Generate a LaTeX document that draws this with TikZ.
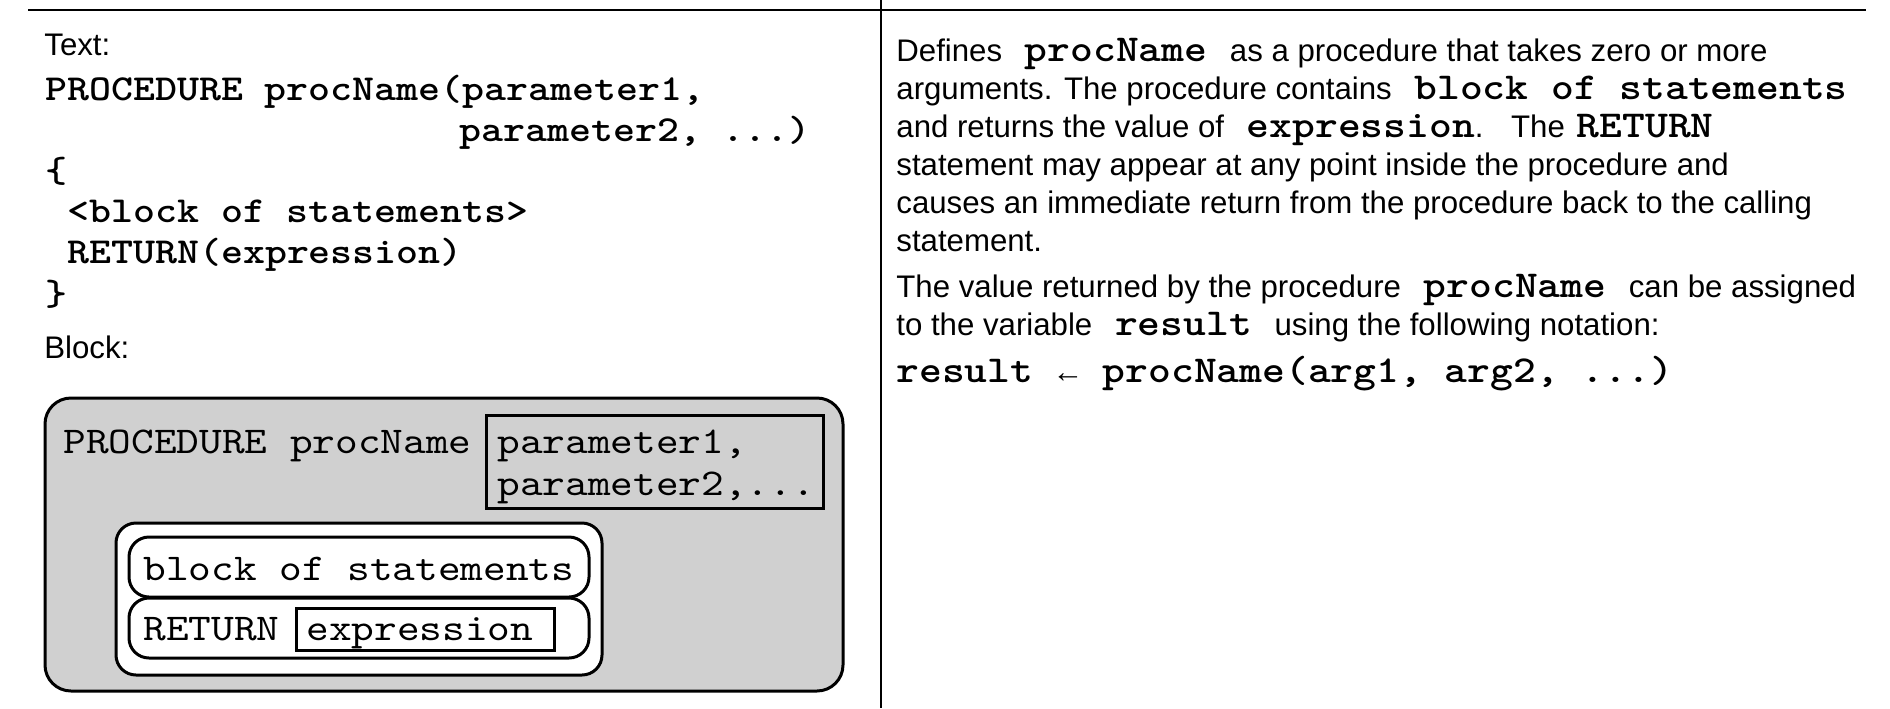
\documentclass[tikz,border=0pt]{standalone}
\usepackage{fontspec}
\setmainfont{Liberation Sans}
\setmonofont{lmmono10-regular}[Extension=.otf, BoldFont=lmmonolt10-bold, FakeStretch=1.143]
\definecolor{boxgray}{RGB}{208,208,208}
\newcommand\code[1]{{\fontsize{19}{22}\ttfamily\bfseries #1}}
\newcommand\kw[1]{\hspace{7pt}\code{#1}\hspace{7pt}}
\tikzset{
  txt/.style={anchor=base west, inner sep=0pt, font=\fontsize{15.6}{18}\selectfont},
  code/.style={anchor=base west, inner sep=0pt, font=\fontsize{18.3}{21}\ttfamily\bfseries},
  blk/.style={anchor=base west, inner sep=0pt, font=\fontsize{18.9}{22}\ttfamily},
  frame/.style={line width=1.5pt}
}
\begin{document}
\begin{tikzpicture}[x=0.5pt, y=-0.5pt]
    \useasboundingbox (0,0) rectangle (1890,708);
    \draw[line width=1pt] (28,10) -- (1866,10);
    \draw[line width=1.2pt] (881,0) -- (881,708);
    \node[txt] (textlbl) at (44,55) {Text:};
    \node[code] (t1) at (45,100) {PROCEDURE procName(parameter1,};
    \node[code] (t2) at (459,141) {parameter2, ...)};
    \node[code] (t3) at (45,182) {\{};
    \node[code] (t4) at (67,222) {<block of statements>};
    \node[code] (t5) at (67,263) {RETURN(expression)};
    \node[code] (t6) at (45,305) {\}};
    \node[txt] (blocklbl) at (44,358) {Block:};
    \filldraw[frame, fill=boxgray, rounded corners=13pt] (45,398) rectangle (843,691);
    \draw[frame] (486,415) rectangle (823,508);
    \filldraw[frame, fill=white, rounded corners=10pt] (116,523) rectangle (602,675);
    \draw[frame, rounded corners=10pt] (129,537) rectangle (589,597);
    \draw[frame, rounded corners=10pt] (129,598) rectangle (589,658);
    \filldraw[frame, fill=white] (296,608) rectangle (554,650);
    \node[blk] (pname) at (63,453) {PROCEDURE procName};
    \node[blk] (par1) at (497,453) {parameter1,};
    \node[blk] (par2) at (497,495) {parameter2,...};
    \node[blk] (stmts) at (143,580) {block of statements};
    \node[blk] (ret) at (143,640) {RETURN};
    \node[blk] (expr) at (306,640) {expression};
    \node[txt] (r1) at (896,61) {Defines \kw{procName} as a procedure that takes zero or more};
    \node[txt] (r2) at (896,99) {arguments. The procedure contains \kw{block of statements}};
    \node[txt] (r3) at (896,137) {and returns the value of \hspace{7pt}\code{expression}.\hspace{8pt} The\hspace{6pt}\code{RETURN}};
    \node[txt] (r4) at (896,175) {statement may appear at any point inside the procedure and};
    \node[txt] (r5) at (896,213) {causes an immediate return from the procedure back to the calling};
    \node[txt] (r6) at (896,251) {statement.};
    \node[txt] (r7) at (896,297) {The value returned by the procedure \kw{procName} can be assigned};
    \node[txt] (r8) at (896,335) {to the variable \kw{result} using the following notation:};
    \node[code, font=\fontsize{19}{22}\ttfamily\bfseries] (call) at (896,382) {result\hspace{9.6pt}{\rmfamily\mdseries\fontsize{15.6}{18}\selectfont ←}\hspace{9.6pt}procName(arg1, arg2, ...)};
\end{tikzpicture}
\end{document}
